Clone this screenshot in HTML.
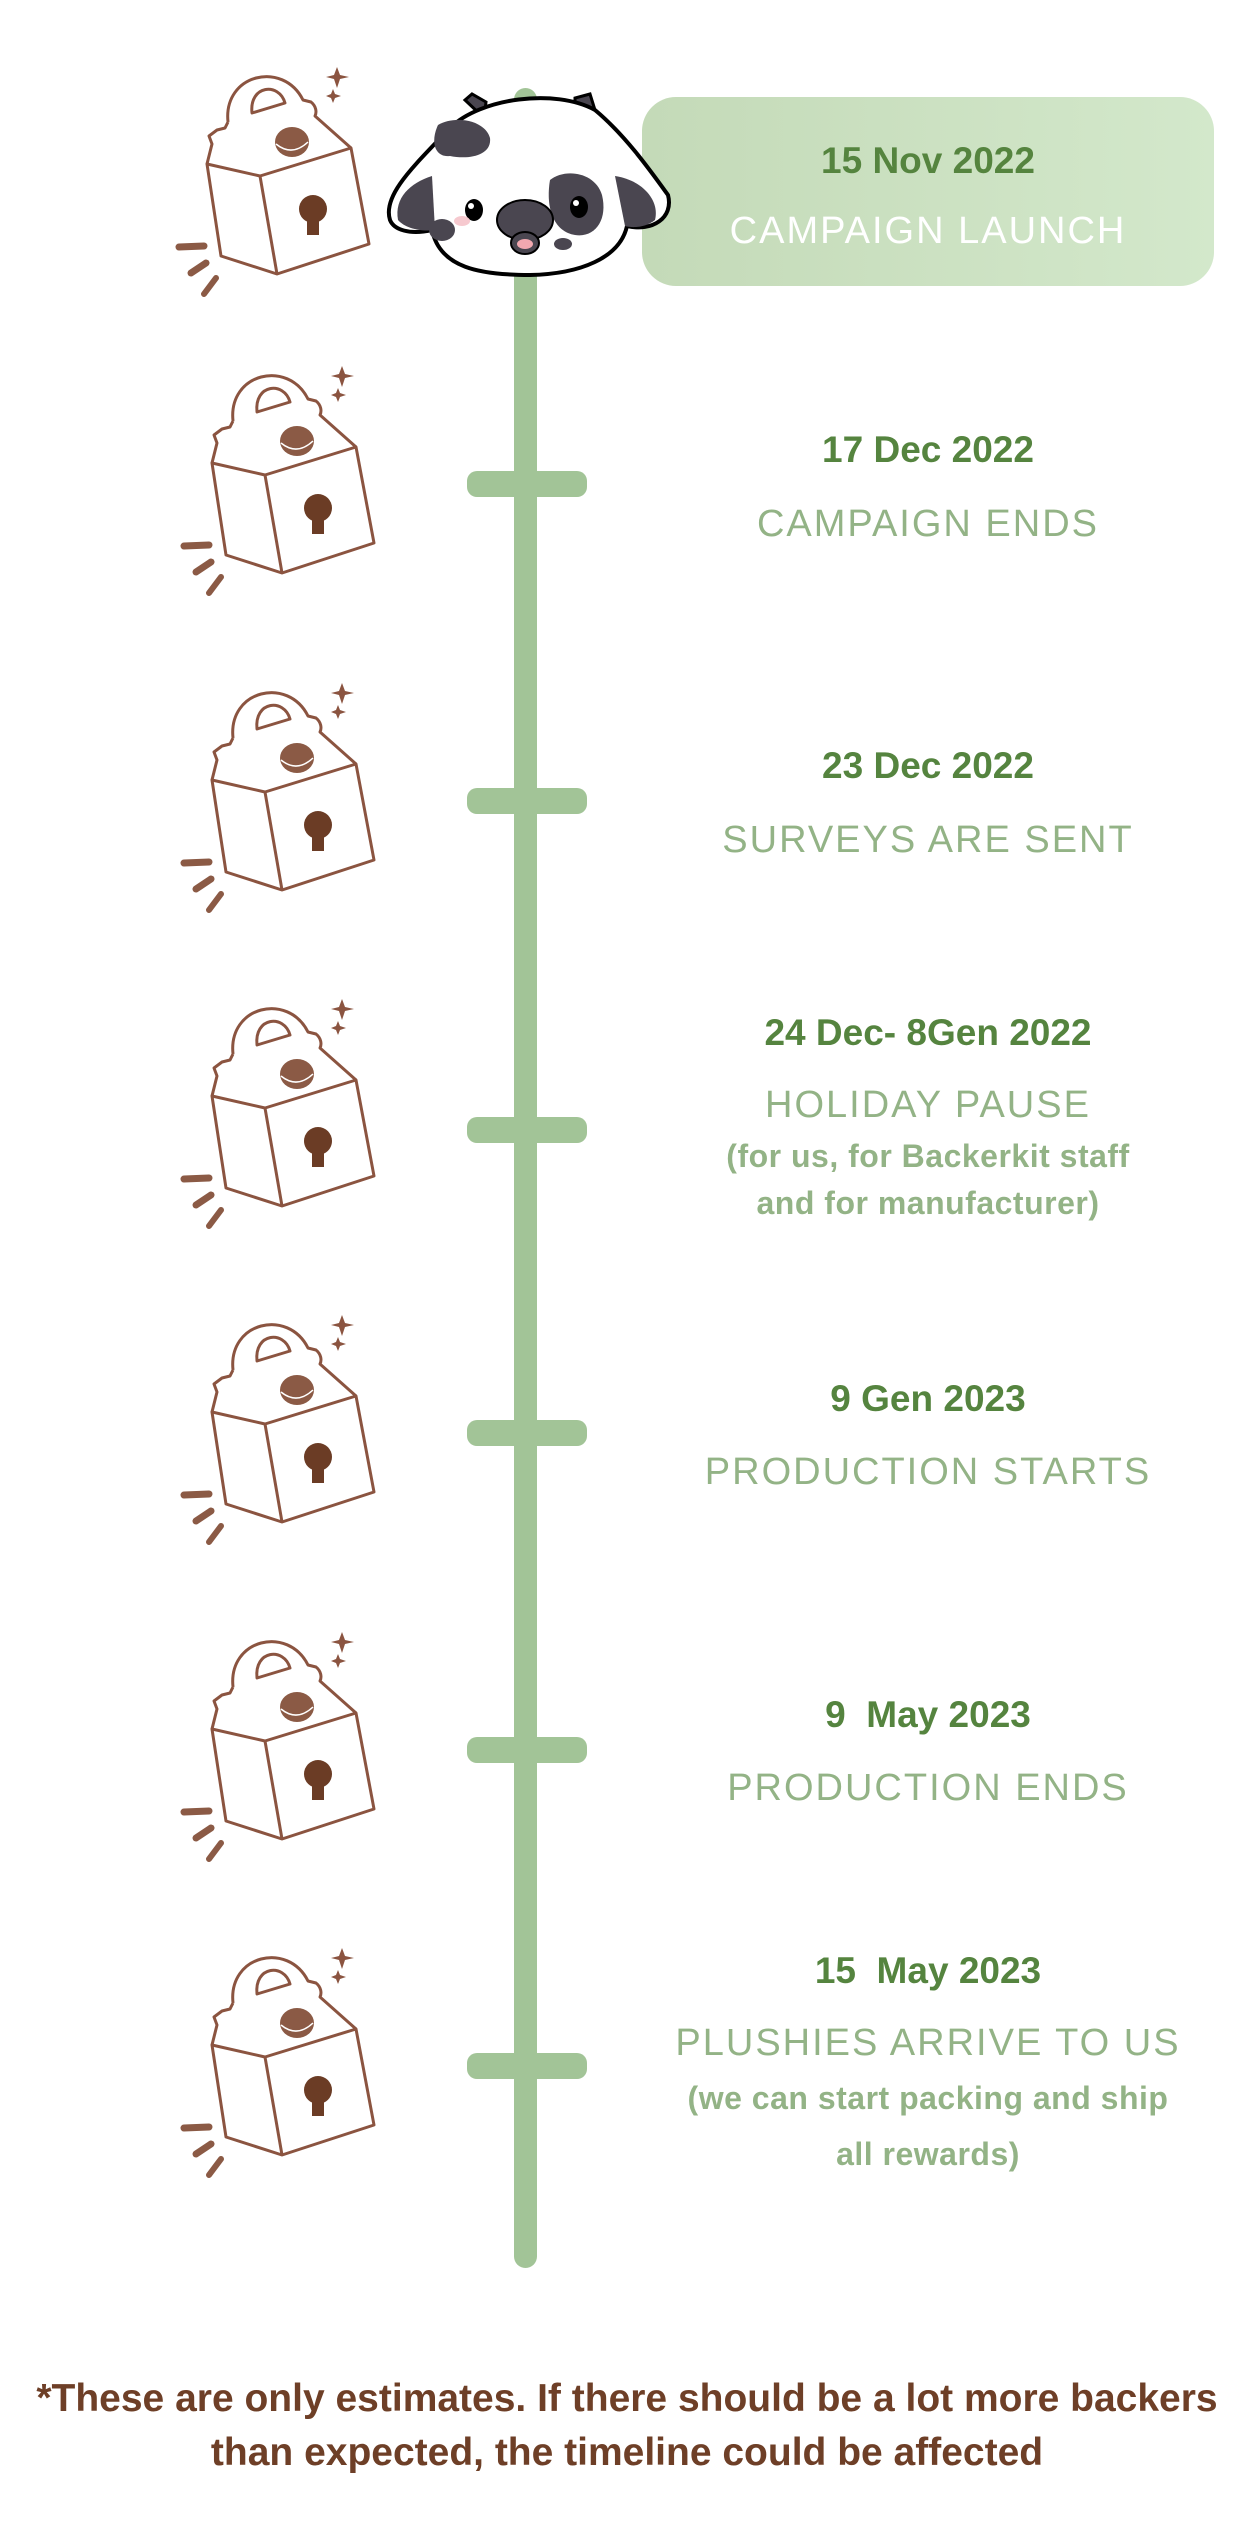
<!DOCTYPE html>
<html><head><meta charset="utf-8"><style>
html,body{margin:0;padding:0;background:#fff}
body{width:1254px;height:2542px;position:relative;overflow:hidden;font-family:"Liberation Sans",sans-serif}
.t{position:absolute;left:600px;width:656px;text-align:center;white-space:nowrap;line-height:1}
.d{color:#55843f;font-weight:bold;font-size:37px}
.h{color:#93b386;font-size:38px;letter-spacing:2px}
.s{color:#93b386;font-size:32px;font-weight:bold;letter-spacing:0.5px}
.tick{position:absolute;left:467px;width:120px;height:26px;border-radius:10px;background:#a2c497}
.ic{position:absolute;left:170px;width:220px;height:240px}
.f{position:absolute;left:0;width:1254px;text-align:center;color:#6e3f27;font-weight:bold;font-size:39px;line-height:1;white-space:nowrap}
</style></head><body>
<svg width="0" height="0" style="position:absolute">
<defs>
<g id="box" fill="none" stroke="#8b5440" stroke-width="3" stroke-linejoin="round">
<path d="M63,58 C58,10 118,-4 138,36 L146,38 C151,42 152,48 150,52 L186,84"/>
<path d="M87,49 C84,21 114,18 120,39 Z"/>
<path d="M63,58 L60,64 L52,66 L44,72 L47,80 L42,100"/>
<path d="M42,100 L95,112 L186,84 L204,180 L112,210 L56,192 Z"/>
<path d="M95,112 L112,210"/>
<ellipse cx="127" cy="78" rx="17" ry="15" fill="#8b5a45" stroke="none"/>
<path d="M111,80 Q127,93 143,78" stroke="#fff" stroke-width="1.5"/>
<circle cx="148" cy="145" r="14" fill="#6b3c25" stroke="none"/>
<rect x="142" y="150" width="12" height="21" fill="#6b3c25" stroke="none"/>
<path d="M172,3 L175,11 L184,13 L175,15 L172,24 L169,15 L161,13 L169,11 Z" fill="#8b5440" stroke="none"/>
<path d="M168,25 L170,30 L176,32 L170,34 L168,39 L166,34 L161,32 L166,30 Z" fill="#8b5440" stroke="none"/>
<path d="M14,183 L39,182" stroke-width="7" stroke-linecap="round" stroke="#8b5a45"/>
<path d="M26,209 L41,199" stroke-width="7" stroke-linecap="round" stroke="#8b5a45"/>
<path d="M39,230 L51,214" stroke-width="6" stroke-linecap="round" stroke="#8b5a45"/>
</g>
</defs></svg>

<div style="position:absolute;left:514px;top:88px;width:23px;height:2180px;border-radius:12px;background:#a2c497"></div>
<div style="position:absolute;left:642px;top:97px;width:572px;height:189px;border-radius:34px;background:linear-gradient(90deg,#c4dab8,#d3e8cb)"></div>

<div class="tick" style="top:471px"></div>
<div class="tick" style="top:788px"></div>
<div class="tick" style="top:1117px"></div>
<div class="tick" style="top:1420px"></div>
<div class="tick" style="top:1737px"></div>
<div class="tick" style="top:2053px"></div>

<svg class="ic" style="top:64px;left:165px" viewBox="0 0 220 240"><use href="#box"/></svg>
<svg class="ic" style="top:363px" viewBox="0 0 220 240"><use href="#box"/></svg>
<svg class="ic" style="top:680px" viewBox="0 0 220 240"><use href="#box"/></svg>
<svg class="ic" style="top:996px" viewBox="0 0 220 240"><use href="#box"/></svg>
<svg class="ic" style="top:1312px" viewBox="0 0 220 240"><use href="#box"/></svg>
<svg class="ic" style="top:1629px" viewBox="0 0 220 240"><use href="#box"/></svg>
<svg class="ic" style="top:1945px" viewBox="0 0 220 240"><use href="#box"/></svg>

<svg style="position:absolute;left:380px;top:80px" width="300" height="210" viewBox="0 0 300 210">
<path d="M85,20 L92,14 L106,22 L104,38 Z M195,35 L195,18 L210,14 L215,30 Z" fill="#4a4650" stroke="#000" stroke-width="3"/>
<path d="M10,140 C2,115 35,85 70,48 C100,18 175,8 215,30 C245,55 270,90 288,115 C294,138 272,152 247,146 C240,178 200,194 150,195 C100,195 60,188 52,150 C30,155 14,150 10,140 Z" fill="#fff" stroke="#000" stroke-width="4"/>
<path d="M18,140 C14,118 30,103 52,96 L55,150 C40,152 25,148 18,140 Z" fill="#4a4650"/>
<path d="M235,96 C262,100 280,120 275,140 C265,148 252,148 245,146 Z" fill="#4a4650"/>
<path d="M58,45 C75,35 105,40 110,58 C112,75 90,80 70,76 C55,78 50,62 58,45 Z" fill="#4a4650"/>
<path d="M170,100 C185,88 215,92 222,115 C228,140 215,158 195,155 C175,152 165,130 170,100 Z" fill="#4a4650"/>
<ellipse cx="62" cy="150" rx="13" ry="11" fill="#4a4650"/>
<ellipse cx="183" cy="164" rx="9" ry="6" fill="#4a4650"/>
<ellipse cx="145" cy="140" rx="28" ry="20" fill="#4a4650" stroke="#000" stroke-width="2"/>
<ellipse cx="145" cy="163" rx="14" ry="11" fill="#4a4650" stroke="#000" stroke-width="2"/>
<ellipse cx="145" cy="164" rx="8" ry="5" fill="#f2a8b0"/>
<ellipse cx="94" cy="130" rx="9" ry="11" fill="#000"/><circle cx="91" cy="126" r="3" fill="#fff"/>
<ellipse cx="199" cy="127" rx="9" ry="11" fill="#000"/><circle cx="196" cy="123" r="3" fill="#fff"/>
<ellipse cx="82" cy="141" rx="8" ry="5" fill="#f6c9cf"/>
</svg>

<div class="t d" style="top:142px">15 Nov 2022</div>
<div class="t h" style="top:212px;color:#fff">CAMPAIGN LAUNCH</div>

<div class="t d" style="top:431px">17 Dec 2022</div>
<div class="t h" style="top:505px">CAMPAIGN ENDS</div>

<div class="t d" style="top:747px">23 Dec 2022</div>
<div class="t h" style="top:821px">SURVEYS ARE SENT</div>

<div class="t d" style="top:1014px">24 Dec- 8Gen 2022</div>
<div class="t h" style="top:1086px">HOLIDAY PAUSE</div>
<div class="t s" style="top:1140px">(for us, for Backerkit staff</div>
<div class="t s" style="top:1187px">and for manufacturer)</div>

<div class="t d" style="top:1380px">9 Gen 2023</div>
<div class="t h" style="top:1453px">PRODUCTION STARTS</div>

<div class="t d" style="top:1696px">9&nbsp; May 2023</div>
<div class="t h" style="top:1769px">PRODUCTION ENDS</div>

<div class="t d" style="top:1952px">15&nbsp; May 2023</div>
<div class="t h" style="top:2024px">PLUSHIES ARRIVE TO US</div>
<div class="t s" style="top:2082px">(we can start packing and ship</div>
<div class="t s" style="top:2138px">all rewards)</div>

<div class="f" style="top:2379px">*These are only estimates. If there should be a lot more backers</div>
<div class="f" style="top:2433px">than expected, the timeline could be affected</div>
</body></html>
